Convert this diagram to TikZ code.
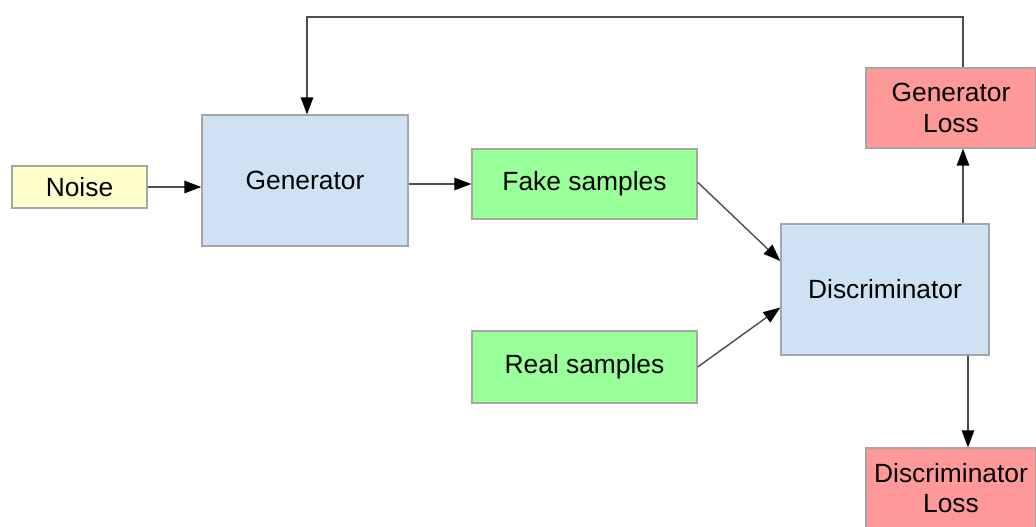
\documentclass[tikz,border=0pt]{standalone}
\usepackage{fontspec}
\setmainfont{Liberation Sans}
\usepackage{tikz}
\usetikzlibrary{positioning}
\usetikzlibrary{arrows.meta}

\definecolor{noisefill}{HTML}{FFFFCC}
\definecolor{netfill}{HTML}{CFE2F3}
\definecolor{samplefill}{HTML}{99FF99}
\definecolor{lossfill}{HTML}{FF9999}
\definecolor{boxline}{HTML}{A6A6A6}
\definecolor{wireline}{HTML}{4D4D4D}

\tikzset{
	blk/.style={draw=boxline, line width=0.8pt, inner sep=0pt, align=center,
		font=\fontsize{15}{17.5}\selectfont},
	wire/.style={draw=wireline, line width=0.8pt,
		-{Triangle[length=3.4mm,width=2.5mm,color=black]}},
}

\begin{document}
\begin{tikzpicture}[x=0.02cm, y=-0.02cm]
	\clip (0,0) rectangle (1036,527);
	\fill[white] (0,0) rectangle (1036,527);

	% Input side
	\node [blk, fill=noisefill, minimum width=2.7cm, minimum height=0.84cm] at (79.5,187) (Noise) {Noise};
	\node [blk, fill=netfill, minimum width=4.12cm, minimum height=2.62cm] at (305,180.5) (Gen) {Generator};

	% Samples
	\node [blk, fill=samplefill, minimum width=4.5cm, minimum height=1.4cm] at (584.5,184) (Fake) {Fake samples};
	\node [blk, fill=samplefill, minimum width=4.5cm, minimum height=1.44cm] at (584.5,367) (Real) {Real samples};

	% Discriminator and losses
	\node [blk, fill=netfill, minimum width=4.16cm, minimum height=2.62cm] at (885,289.5) (Disc) {Discriminator};
	\node [blk, fill=lossfill, minimum width=3.4cm, minimum height=1.6cm] at (951,108) (GenLoss) {Generator\\Loss};
	\node [blk, fill=lossfill, minimum width=3.4cm, minimum height=1.6cm] at (951,488) (DiscLoss) {Discriminator\\Loss};

	% Helper points for the vertical runs
	\coordinate (upx) at (963,0);
	\coordinate (downx) at (968,0);
	\coordinate (top) at (307,17);

	% Connections
	\draw [wire] (Noise) -- (Noise -| Gen.west);
	\draw [wire] (Gen.east |- Fake.west) -- (Fake.west);
	\draw [wire] ([yshift=1pt]Fake.east) -- ([yshift=5.7mm]Disc.west);
	\draw [wire] (Real.east) -- ([yshift=-3.6mm]Disc.west);
	\draw [wire] (Disc.north -| upx) -- (GenLoss.south -| upx);
	\draw [wire] (Disc.south -| downx) -- (DiscLoss.north -| downx);
	\draw [wire] (GenLoss.north -| upx) |- (top) -- (Gen.north -| top);

\end{tikzpicture}
\end{document}
